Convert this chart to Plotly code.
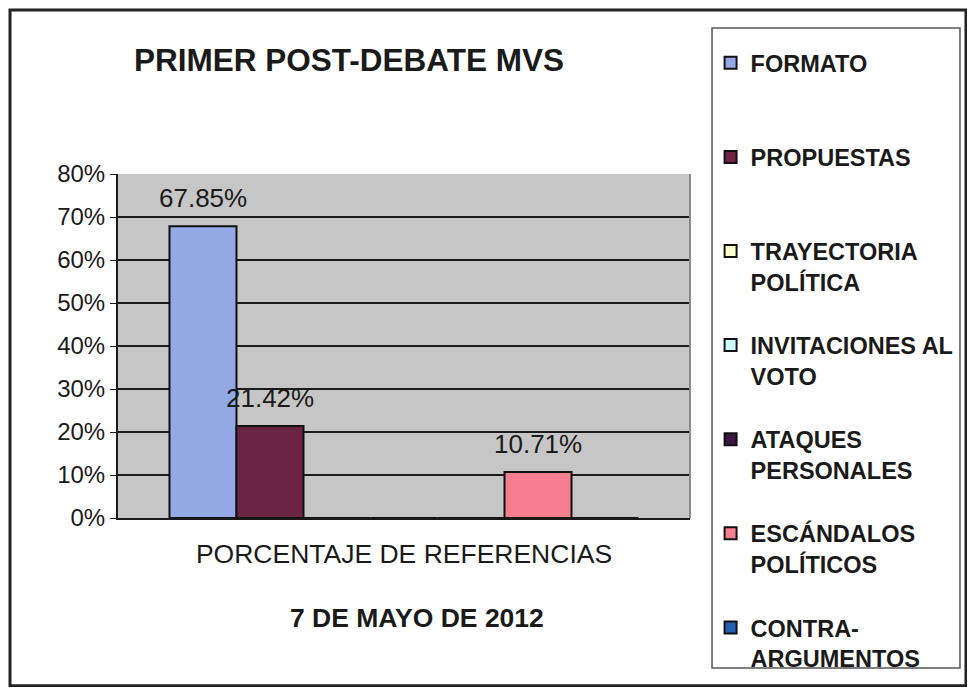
import plotly.graph_objects as go

# one category, seven series (Excel-style clustered column)
category = ['PORCENTAJE DE REFERENCIAS']
series_names = ['FORMATO<br> ', 'PROPUESTAS<br> ', 'TRAYECTORIA<br>POLÍTICA',
                'INVITACIONES AL<br>VOTO', 'ATAQUES<br>PERSONALES',
                'ESCÁNDALOS<br>POLÍTICOS', 'CONTRA-<br>ARGUMENTOS']
series_values = [67.85, 21.42, 0, 0, 0, 10.71, 0]
series_colors = ['#93A9E6', '#6C2444', '#FFFFCC', '#CCFFFF', '#3C1742', '#F57E8F', '#2463B4']

FONT = 'Liberation Sans, Arial, sans-serif'
BARGAP = 0.18

fig = go.Figure()
for name, val, col in zip(series_names, series_values, series_colors):
    fig.add_trace(go.Bar(
        x=category, y=[val], name=name, legendgroup=name,
        marker=dict(color=col, line=dict(color='#111111', width=2)),
    ))

# value labels sit a little higher than plotly's own 'outside' text,
# so they are annotations placed at each bar's slot on the category axis
slot = (1 - BARGAP) / len(series_values)
for i, val in enumerate(series_values):
    if not val:
        continue
    fig.add_annotation(x=-(1 - BARGAP) / 2 + slot * (i + 0.5), y=val,
                       xref='x', yref='y', text=f'{val:.2f}%', showarrow=False,
                       yanchor='middle', yshift=28,
                       font=dict(size=26, family=FONT, color='#1a1a1a'))

# x axis title sits a bit right of the plot centre in the original
fig.add_annotation(text='<b>7 DE MAYO DE 2012</b>', xref='paper', yref='paper',
                   x=0.523, y=-0.29, showarrow=False, yanchor='middle',
                   font=dict(size=26.5, family=FONT, color='#1a1a1a'))

# page body adds 8px around the figure, so the figure is 16px smaller
fig.update_layout(
    width=959, height=679,
    margin=dict(l=110, r=277, t=166, b=169, autoexpand=False),
    paper_bgcolor='white', plot_bgcolor='#C6C6C6',
    barmode='group', bargap=BARGAP, bargroupgap=0,
    font=dict(family=FONT, color='#1a1a1a'),
    title=dict(text='<b>PRIMER POST-DEBATE MVS</b>', x=0.3556, xanchor='center',
               xref='container', y=0.9234, yref='container', yanchor='middle',
               font=dict(size=31.5, family=FONT, color='#1a1a1a')),
    legend=dict(x=1.036, xanchor='left', y=1.4244, yanchor='top',
                bgcolor='rgba(0,0,0,0)', borderwidth=0,
                font=dict(size=23.5, family=FONT, color='#1a1a1a', weight='bold'),
                title=dict(text=' ', font=dict(size=10)),
                valign='top', traceorder='grouped', tracegroupgap=30,
                maxheight=700),
    showlegend=True,
)

fig.update_yaxes(range=[0, 80], dtick=10, ticksuffix='%',
                 showgrid=True, gridcolor='#1a1a1a', gridwidth=1.5,
                 showline=True, linecolor='#1a1a1a', linewidth=2,
                 ticks='outside', ticklen=6, tickcolor='#1a1a1a',
                 tickfont=dict(size=24, family=FONT), zeroline=False)
fig.update_xaxes(showline=True, linecolor='#1a1a1a', linewidth=2,
                 tickfont=dict(size=26.5, family=FONT), ticklabelstandoff=11)

# grey right edge of the plot area
fig.add_shape(type='line', xref='paper', yref='paper', x0=1, x1=1, y0=0, y1=1,
              line=dict(color='#8a8a8a', width=2))

# outer chart frame
fig.add_shape(type='rect', xref='paper', yref='paper',
              x0=-0.1888, x1=1.4825, y0=-0.488, y1=1.4767,
              line=dict(color='#222222', width=3), layer='below')

# legend box (drawn separately so it ends just under the last entry)
fig.add_shape(type='rect', xref='paper', yref='paper',
              x0=1.0385, x1=1.472, y0=-0.436, y1=1.4244,
              line=dict(color='#555555', width=1.5), fillcolor='white', layer='below')

fig.write_html('out.html')
